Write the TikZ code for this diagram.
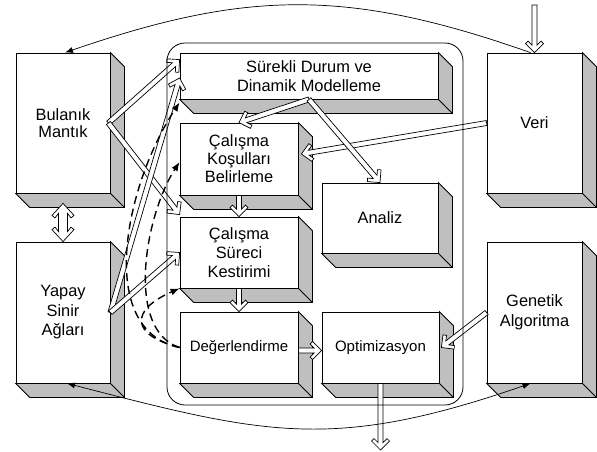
\documentclass[tikz,border=0pt]{standalone}
\usepackage{fontspec}
\setmainfont{Liberation Sans}
\usetikzlibrary{calc,arrows.meta}

\tikzset{
  box/.style={draw, fill=white, line width=0.8pt, inner sep=0pt, align=center,
    font=\fontsize{16.4}{19.5}\selectfont},
  depthface/.style={fill=gray!50, draw, line width=0.8pt, line join=miter},
  harrow/.style={fill=white, draw, line width=0.7pt, line join=miter},
  link/.style={line width=0.7pt},
  tip/.style={-{Latex[length=8pt,width=6pt]}},
  fb/.style={line width=1.4pt, dash pattern=on 8pt off 5pt, -{Latex[length=9pt,width=7pt]}},
  container/.style={draw, line width=0.8pt, rounded corners=18pt},
}

% 3D depth of a box
\newcommand\boxdepth[1]{%
  \filldraw[depthface] (#1.north east) -- ++(14,14) -- ($(#1.south east)+(14,14)$)
    -- ($(#1.south west)+(14,14)$) -- (#1.south west) -- (#1.south east) -- cycle;
  \draw[depthface, fill=none] (#1.south east) -- ++(14,14);
}

% hollow single-headed arrow
\newcommand\hollowarrow[2]{%
  \coordinate (hA) at (#1); \coordinate (hB) at (#2);
  \coordinate (h1) at ($(hB)!7.5pt!(hA)$);
  \coordinate (h2) at ($(hB)!11.5pt!(hA)$);
  \coordinate (h3) at ($(hB)!9pt!(hA)$);
  \filldraw[harrow] ($(hA)!2.5pt!90:(hB)$) -- ($(h1)!2.5pt!-90:(hA)$)
    -- ($(h2)!6.5pt!-90:(hA)$) -- ($(h3)!9pt!-90:(hA)$) -- (hB)
    -- ($(h3)!9pt!90:(hA)$) -- ($(h2)!6.5pt!90:(hA)$) -- ($(h1)!2.5pt!90:(hA)$)
    -- ($(hA)!2.5pt!-90:(hB)$) -- cycle;
}

% hollow double-headed arrow
\newcommand\hollowdarrow[2]{%
  \coordinate (hA) at (#1); \coordinate (hB) at (#2);
  \coordinate (a1) at ($(hA)!10pt!(hB)$); \coordinate (a2) at ($(hA)!14.5pt!(hB)$);
  \coordinate (a3) at ($(hA)!12pt!(hB)$);
  \coordinate (b1) at ($(hB)!10pt!(hA)$); \coordinate (b2) at ($(hB)!14.5pt!(hA)$);
  \coordinate (b3) at ($(hB)!12pt!(hA)$);
  \filldraw[harrow] (hA) -- ($(a3)!11pt!90:(hB)$) -- ($(a2)!8pt!90:(hB)$)
    -- ($(a1)!4.5pt!90:(hB)$) -- ($(b1)!4.5pt!-90:(hA)$) -- ($(b2)!8pt!-90:(hA)$)
    -- ($(b3)!11pt!-90:(hA)$) -- (hB) -- ($(b3)!11pt!90:(hA)$)
    -- ($(b2)!8pt!90:(hA)$) -- ($(b1)!4.5pt!90:(hA)$) -- ($(a1)!4.5pt!-90:(hB)$)
    -- ($(a2)!8pt!-90:(hB)$) -- ($(a3)!11pt!-90:(hB)$) -- cycle;
}

\begin{document}
\begin{tikzpicture}[x=1pt, y=-1pt]
\useasboundingbox (0,0) rectangle (597,452);

% boxes (front faces)
\node[box, minimum width=94pt, minimum height=140pt, font=\fontsize{16.4}{17}\selectfont] (bm) at (63,123) {Bulanık\\Mantık};
\node[box, minimum width=94pt, minimum height=141pt] (ysa) at (63,312.5) {Yapay\\Sinir\\Ağları};
\node[box, minimum width=95pt, minimum height=140pt] (veri) at (534.5,123) {Veri};
\node[box, minimum width=95pt, minimum height=141pt] (ga) at (534.5,312.5) {Genetik\\Algoritma};
\node[box, minimum width=258pt, minimum height=46pt] (sdm) at (309,76) {Sürekli Durum ve\\Dinamik Modelleme};
\node[box, minimum width=118pt, minimum height=72pt, font=\fontsize{16.4}{18}\selectfont] (kb) at (239,159) {Çalışma\\Koşulları\\Belirleme};
\node[box, minimum width=116pt, minimum height=70pt] (an) at (380,218) {Analiz};
\node[box, minimum width=118pt, minimum height=71pt, font=\fontsize{16.4}{19}\selectfont] (sk) at (239,252.5) {Çalışma\\Süreci\\Kestirimi};
\node[box, minimum width=118pt, minimum height=71pt, font=\fontsize{15}{19}\selectfont] (deg) at (239,347.5) {Değerlendirme};
\node[box, minimum width=117pt, minimum height=71pt, font=\fontsize{15}{19}\selectfont] (opt) at (380.5,347.5) {Optimizasyon};

\foreach \b in {bm,ysa,veri,ga,sdm,kb,an,sk,deg,opt} {\boxdepth{\b}}

% free ends
\coordinate (vin) at (534.5,5);
\coordinate (out) at (380.5,450);

% hollow arrows
\hollowarrow{vin}{veri.north}
\hollowarrow{veri.west}{$(kb.east)+(3,-5)$}
\hollowarrow{sdm.south}{kb.north}
\hollowarrow{sdm.south}{an.north}
\hollowarrow{kb.south}{sk.north}
\hollowarrow{sk.south}{deg.north}
\hollowarrow{$(deg.east)+(0,3)$}{$(opt.west)+(0,3)$}
\hollowarrow{ga.west}{$(opt.east)+(2,0)$}
\hollowarrow{opt.south}{out}
\hollowdarrow{$(bm.south)+(0,10)$}{ysa.north}
\hollowarrow{$(bm.east)+(-2,0)$}{$(sdm.north west)+(0,7)$}
\hollowarrow{$(bm.east)+(-2,0)$}{$(sk.north west)+(0,-2)$}
\hollowarrow{ysa.east}{$(sdm.west)+(0,2)$}
\hollowarrow{ysa.east}{sk.west}

% container
\node[container, minimum width=296pt, minimum height=362pt] (cont) at (315,224) {};

% thin curved links
\draw[link, tip] ($(veri.north)+(-4,0)$) .. controls (348,-11.6) and (247,-10) .. ($(bm.north)+(2,0)$);
\draw[link, {Latex[length=8pt,width=6pt]}-{Latex[length=8pt,width=6pt]}]
  ($(ysa.south)+(4,0)$) .. controls (265,434.5) and (332,452) .. ($(ga.south)+(-4,0)$);

% dashed feedback
\draw[fb] (deg.west) .. controls (95,330) and (125,185) .. ($(sdm.south west)+(0,3)$);
\draw[fb] (deg.west) .. controls (125,330) and (145,215) .. ($(kb.west)+(0,3)$);
\draw[fb] (deg.west) .. controls (130,335) and (130,310) .. (sk.south west);
\end{tikzpicture}
\end{document}
